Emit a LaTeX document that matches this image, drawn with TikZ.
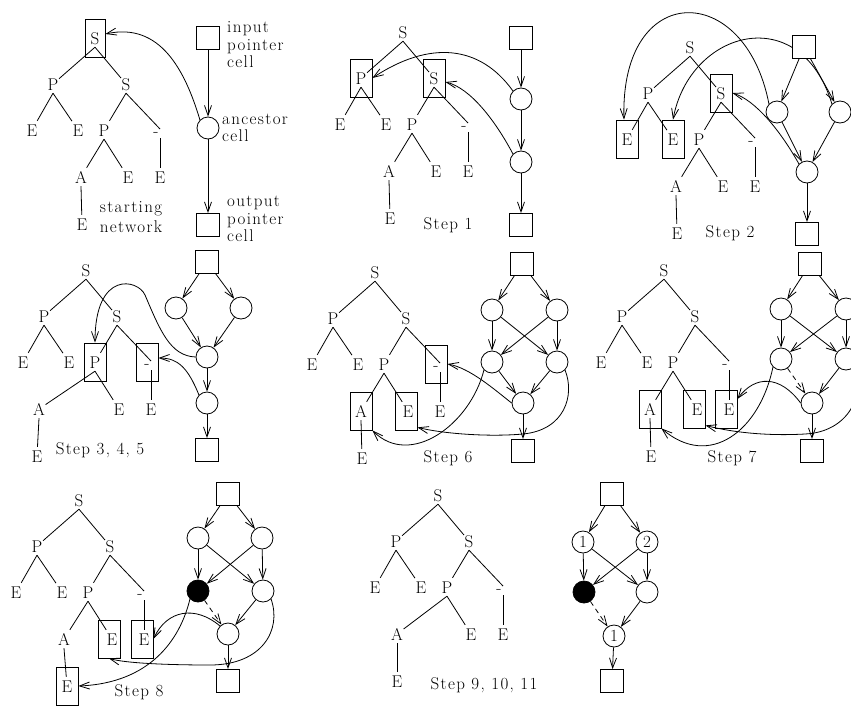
\documentclass[tikz,border=0pt]{standalone}
\usepackage{fontspec}
\setmainfont{Latin Modern Roman}[LetterSpace=8]
\usetikzlibrary{arrows.meta,calc}
\tikzset{
  every node/.style={font=\fontsize{17}{20}\selectfont},
  tn/.style={inner xsep=0.5pt,inner ysep=0pt,text height=12pt,text depth=0pt,minimum height=18pt},
  tl/.style={line width=0.8pt},
  bx/.style={draw,line width=0.8pt,minimum width=22pt,minimum height=38pt,inner sep=0pt},
  sq/.style={draw,fill=white,line width=0.8pt,minimum width=23pt,minimum height=23pt,inner sep=0pt},
  cc/.style={circle,draw,fill=white,line width=0.8pt,minimum size=22pt,inner sep=0pt},
  bc/.style={cc,fill=black},
  ar/.style={line width=0.8pt,-{Straight Barb[length=10pt,width=7pt]}},
  da/.style={ar,dash pattern=on 5pt off 4pt},
  lbl/.style={align=left,inner sep=0pt,font=\fontsize{17}{17.5}\selectfont},
}
\newcommand\drawtree[5]{%
\begin{scope}[shift={(#2,#3)}]
\node[tn] (#1S) at (0,0) {S};
\node[tn] (#1P) at (-42,46) {P};
\node[tn] (#1S2) at (31,46) {S};
\node[tn] (#1E1) at (-63,92) {E};
\node[tn] (#1E2) at (-17,92) {E};
\node[tn] (#1P2) at (9,92) {P};
\node[tn] (#1D) at (61,92) {-};
\coordinate (#1Dt) at (65,91);
\coordinate (#1Db) at (65,100);
\node[tn] (#1A) at (#4,139) {A};
\node[tn] (#1E3) at (33,139) {E};
\node[tn] (#1E4) at (65,139) {E};
\node[tn] (#1E5) at (#5,186) {E};
\draw[tl] (#1S.south) -- (#1P);
\draw[tl] (#1S.south) -- (#1S2);
\draw[tl] (#1P.south) -- (#1E1);
\draw[tl] (#1P.south) -- (#1E2);
\draw[tl] (#1S2.south) -- (#1P2);
\draw[tl] (#1S2.south) -- (#1Dt);
\draw[tl] (#1Db) -- (#1E4);
\draw[tl] (#1P2.south) -- (#1A);
\draw[tl] (#1P2.south) -- (#1E3);
\draw[tl] (#1A.south) -- (#1E5);
\end{scope}}
\begin{document}
\begin{tikzpicture}[x=1pt,y=-1pt]
\path[use as bounding box] (0,0) rectangle (851,707);
\clip (0,0) rectangle (851,707);

% ---------- panel 1: starting network
\drawtree{a}{95}{38}{-14}{-13}
\node[bx,minimum width=20pt] (aSb) at (aS) {};
\node[sq] (ain) at (208,38) {};
\node[cc] (aanc) at (208,128) {};
\node[sq] (aout) at (208,225) {};
\draw[ar] (ain) -- (aanc);
\draw[ar] (aanc) -- (aout);
\draw[ar] (aanc.north west) .. controls (185,70) and (160,22) .. ([yshift=4pt]aSb.east);
\node[lbl,anchor=west] (ainl) at (227,45) {input\\pointer\\cell};
\node[lbl,anchor=west] (aancl) at (222,128) {ancestor\\cell};
\node[lbl,anchor=west] (aoutl) at (227,219) {output\\pointer\\cell};
\node[align=center,inner sep=0pt] (astart) at (131,217) {starting\\network};

% ---------- panel 2: step 1
\drawtree{b}{403}{32}{-14}{-13}
\node[bx] (bPb) at (bP) {};
\node[bx] (bS2b) at (bS2) {};
\node[sq] (bin) at (521,38) {};
\node[cc] (bc1) at (521,99) {};
\node[cc] (bc2) at (521,162) {};
\node[sq] (bout) at (521,225) {};
\draw[ar] (bin) -- (bc1);
\draw[ar] (bc1) -- (bc2);
\draw[ar] (bc2) -- (bout);
\draw[ar] (bc1.north west) .. controls (480,45) and (430,40) .. (bPb.east);
\draw[ar] (bc2.north west) .. controls (495,120) and (470,88) .. ([yshift=-4pt]bS2b.east);
\node (bstep) at (448,225) {Step 1};

% ---------- panel 3: step 2
\drawtree{c}{690}{47}{-14}{-13}
\node[bx] (cS2b) at (cS2) {};
\node[bx] (cE1b) at (cE1) {};
\node[bx] (cE2b) at (cE2) {};
\node[cc] (cL) at (777,112) {};
\node[cc] (cR) at (840,112) {};
\node[cc] (cB) at (807,172) {};
\draw[ar] (cR.north west) .. controls (800,0) and (690,30) .. (cE2b.north);
\node[sq] (cin) at (804,47) {};
\node[sq] (cout) at (807,234) {};
\draw[ar] (cin) -- (cL);
\draw[ar] (cin) -- (cR);
\draw[ar] (cL) -- (cB);
\draw[ar] (cR) -- (cB);
\draw[ar] (cB) -- (cout);
\draw[ar] (cL.north west) .. controls (745,-20) and (620,-20) .. ([xshift=-3pt]cE1b.north);
\draw[ar] (cB.north west) .. controls (780,130) and (755,100) .. (cS2b.east);
\node (cstep) at (730,233) {Step 2};

% ---------- panel 4: step 3,4,5
\drawtree{d}{86}{270}{-47}{-49}
\node[bx] (dP2b) at (dP2) {};
\node[bx] (dDb) at (dD) {};
\node[sq] (din) at (207,262) {};
\node[cc] (dL) at (176,308) {};
\node[cc] (dR) at (241,308) {};
\node[cc] (dM) at (207,357) {};
\node[cc] (dLo) at (207,403) {};
\node[sq] (dout) at (207,450) {};
\draw[ar] (din) -- (dL);
\draw[ar] (din) -- (dR);
\draw[ar] (dL) -- (dM);
\draw[ar] (dR) -- (dM);
\draw[ar] (dM) -- (dLo);
\draw[ar] (dLo) -- (dout);
\draw[ar] (dM.west) .. controls (170,356) and (160,330) .. (145,295) .. controls (138,279) and (95,270) .. (dP2b.north);
\draw[ar] (dLo.north west) .. controls (188,368) and (178,358) .. ([yshift=4pt]dDb.east);
\node (dstep) at (100,450) {Step 3, 4, 5};

% ---------- panel 5: step 6
\drawtree{e}{375}{272}{-14}{-13}
\node[bx] (eDb) at (eD) {};
\node[bx] (eAb) at (eA) {};
\node[bx,xshift=-2pt] (eE3b) at (eE3) {};
\node[sq] (ein) at (522,264) {};
\node[cc] (eTL) at (492,310) {};
\node[cc] (eTR) at (557,310) {};
\node[cc] (eML) at (492,362) {};
\node[cc] (eMR) at (557,362) {};
\node[cc] (eB) at (523,403) {};
\node[sq] (eout) at (523,451) {};
\draw[ar] (ein) -- (eTL);
\draw[ar] (ein) -- (eTR);
\draw[ar] (eTL) -- (eML);
\draw[ar] (eTL) -- (eMR);
\draw[ar] (eTR) -- (eML);
\draw[ar] (eTR) -- (eMR);
\draw[ar] (eML) -- (eB);
\draw[ar] (eMR) -- (eB);
\draw[ar] (eB) -- (eout);
\draw[ar] (eB.west) .. controls (495,390) and (470,368) .. (eDb.east);
\draw[ar] (eML.south west) .. controls (470,425) and (410,468) .. (eAb.south east);
\draw[ar] (eMR.south east) .. controls (575,395) and (565,430) .. (523,434) .. controls (490,437) and (445,434) .. ([yshift=3pt]eE3b.south east);
\node (estep) at (448,458) {Step 6};

% ---------- panel 6: step 7
\drawtree{f}{664}{270}{-14}{-13}
\node[bx] (fAb) at (fA) {};
\node[bx,xshift=-3pt] (fE3b) at (fE3) {};
\node[bx,xshift=-3pt] (fE4b) at (fE4) {};
\node[sq] (fin) at (810,264) {};
\node[cc] (fTL) at (781,309) {};
\node[cc] (fTR) at (846,309) {};
\node[cc] (fML) at (781,359) {};
\node[cc] (fMR) at (846,359) {};
\node[cc] (fB) at (812,403) {};
\node[sq] (fout) at (812,451) {};
\draw[ar] (fin) -- (fTL);
\draw[ar] (fin) -- (fTR);
\draw[ar] (fTL) -- (fML);
\draw[ar] (fTL) -- (fMR);
\draw[ar] (fTR) -- (fML);
\draw[ar] (fTR) -- (fMR);
\draw[da] (fML) -- (fB);
\draw[ar] (fMR) -- (fB);
\draw[ar] (fB) -- (fout);
\draw[ar] (fB.west) .. controls (780,375) and (755,375) .. ([yshift=10pt]fE4b.east);
\draw[ar] (fML.south west) .. controls (760,430) and (710,470) .. (fAb.south east);
\draw[ar] (fMR.south east) .. controls (866,395) and (848,432) .. (805,434) .. controls (770,436) and (735,433) .. ([yshift=3pt]fE3b.south east);
\node (fstep) at (732,458) {Step 7};

% ---------- panel 7: step 8
\drawtree{g}{79}{500}{-15}{-12}
\node[bx,xshift=-3pt] (gE3b) at (gE3) {};
\node[bx,xshift=-2pt] (gE4b) at (gE4) {};
\node[bx] (gE5b) at (gE5) {};
\node[sq] (gin) at (228,494) {};
\node[cc] (gTL) at (198,538) {};
\node[cc] (gTR) at (262,538) {};
\node[bc] (gML) at (198,591) {};
\node[cc] (gMR) at (263,591) {};
\node[cc] (gB) at (228,634) {};
\node[sq] (gout) at (228,681) {};
\draw[ar] (gin) -- (gTL);
\draw[ar] (gin) -- (gTR);
\draw[ar] (gTL) -- (gML);
\draw[ar] (gTL) -- (gMR);
\draw[ar] (gTR) -- (gML);
\draw[ar] (gTR) -- (gMR);
\draw[da] (gML) -- (gB);
\draw[ar] (gMR) -- (gB);
\draw[ar] (gB) -- (gout);
\draw[ar] (gB.north west) .. controls (195,605) and (167,610) .. (gE4b.east);
\draw[ar] (gML.south west) .. controls (180,640) and (150,683) .. (gE5b.east);
\draw[ar] (gMR.south east) .. controls (282,630) and (262,665) .. (210,665) .. controls (165,665) and (125,663) .. (gE3b.south);
\node (gstep) at (139,692) {Step 8};

% ---------- panel 8: step 9,10,11
\drawtree{h}{438}{495}{-41}{-41}
\node[sq] (hin) at (612,494) {};
\node[cc] (hTL) at (583,542) {1};
\node[cc] (hTR) at (647,542) {2};
\node[bc] (hML) at (584,592) {};
\node[cc] (hMR) at (647,592) {};
\node[cc] (hB) at (614,636) {1};
\node[sq] (hout) at (612,681) {};
\draw[ar] (hin) -- (hTL);
\draw[ar] (hin) -- (hTR);
\draw[ar] (hTL) -- (hML);
\draw[ar] (hTL) -- (hMR);
\draw[ar] (hTR) -- (hML);
\draw[ar] (hTR) -- (hMR);
\draw[da] (hML) -- (hB);
\draw[ar] (hMR) -- (hB);
\draw[ar] (hB) -- (hout);
\node (hstep) at (484,685) {Step 9, 10, 11};
\end{tikzpicture}
\end{document}
